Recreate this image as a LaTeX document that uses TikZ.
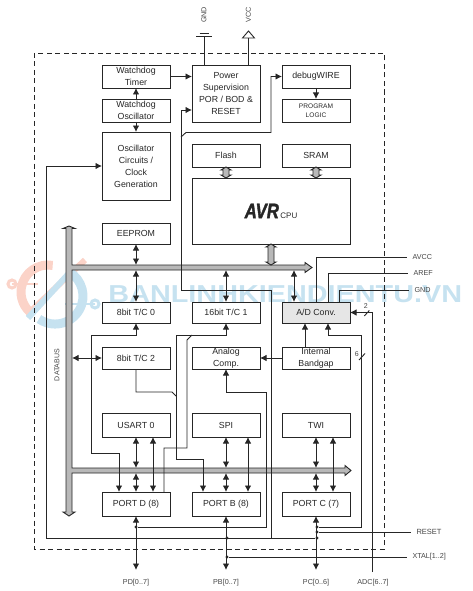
\documentclass[tikz,border=0pt]{standalone}
\usepackage{xcolor}
\usepackage{fontspec}
\setmainfont{Liberation Sans}
\newfontfamily\avrlogo[BoldItalicFeatures={FakeBold=2}]{Liberation Sans}
\usetikzlibrary{shapes,arrows.meta,positioning}
\definecolor{ink}{HTML}{262626}
\definecolor{labelgray}{HTML}{454545}
\definecolor{busgray}{HTML}{B8B8B8}
\definecolor{adcgray}{HTML}{E6E6E6}
\definecolor{wmblue}{HTML}{C6E2F0}
\definecolor{wmred}{HTML}{FBD3C8}
\newcommand{\busarrow}[2]{%
  \draw [busline] (#1) -- ([shift={(-5pt,-3pt)}]#1) -- ([shift={(-3pt,-3pt)}]#1)
    -- ([shift={(-3pt,3pt)}]#2) -- ([shift={(-5pt,3pt)}]#2) -- (#2)
    -- ([shift={(5pt,3pt)}]#2) -- ([shift={(3pt,3pt)}]#2)
    -- ([shift={(3pt,-3pt)}]#1) -- ([shift={(5pt,-3pt)}]#1) -- cycle;}

\begin{document}
\begin{tikzpicture}[x=1pt, y=-1pt, ink, line width=0.9pt,
  block/.style={rectangle, draw, inner sep=0pt, outer sep=0pt, align=center, minimum width=68pt, minimum height=23pt, text=ink, font=\fontsize{8.8}{12}\selectfont},
  pin/.style={inner sep=0pt, outer sep=5.5pt, text=labelgray, font=\fontsize{7.2}{9}\selectfont},
  tiny/.style={inner sep=0pt, text=labelgray, font=\fontsize{7}{9}\selectfont},
  line/.style={draw, -{Latex[length=6.5pt,width=6.5pt]}},
  dline/.style={draw, {Latex[length=6.5pt,width=6.5pt]}-{Latex[length=6.5pt,width=6.5pt]}},
  busline/.style={draw, fill=busgray},
  dot/.style={circle, fill, inner sep=0pt, minimum size=3.2pt}]

  \useasboundingbox (0,0) rectangle (472,591);

  \draw [wmred, line width=9pt] (52.7,265.4) arc [start angle=-80, end angle=-235, radius=27];
  \draw [wmred, line width=6pt] (85,260) -- (32,310);
  \draw [wmred, line width=2pt] (12,284) -- (38,284);
  \draw [wmred, line width=3pt] (12,284) circle [radius=4];
  \draw [wmblue, line width=9pt] (69,271.8) arc [start angle=-60, end angle=125, radius=28];
  \draw [wmblue, line width=6pt] (72,270) -- (28,318);
  \draw [wmblue, line width=2pt] (65,304) -- (95,304);
  \draw [wmblue, line width=3pt] (95,304) circle [radius=4];
  \node [anchor=west, inner sep=0pt, text=wmblue, font=\bfseries\fontsize{24.5}{24}\selectfont] (watermark) at (108,294) {\scalebox{1.176}[1]{BANLINHKIENDIENTU.VN}};

  \draw [dashed, dash pattern=on 5pt off 3.5pt] (34,53) rectangle (384,549);

  \node [block] (wdtimer) at (136,76.5) {Watchdog\\Timer};
  \node [block, below=11pt of wdtimer] (wdosc) {Watchdog\\Oscillator};
  \node [block, below=10pt of wdosc, minimum height=68pt] (osc) {Oscillator\\Circuits /\\Clock\\Generation};
  \node [block, below=23pt of osc, minimum height=21pt] (eeprom) {EEPROM};
  \node [block, below=58pt of eeprom, minimum height=21pt] (tc0) {8bit T/C 0};
  \node [block, below=24pt of tc0, minimum height=22pt] (tc2) {8bit T/C 2};
  \node [block, below=44pt of tc2, minimum height=24pt] (usart) {USART 0};
  \node [block, below=55pt of usart, minimum height=24pt] (portd) {PORT D (8)};

  \node [block, right=22pt of wdtimer.north east, anchor=north west, minimum height=57pt] (power) {Power\\Supervision\\POR / BOD \&\\RESET};
  \node [block, below=22pt of power] (flash) {Flash};
  \node [block, below=11pt of flash.south west, anchor=north west, minimum width=158pt, minimum height=66pt] (cpu) {\scalebox{.8}[1]{\fontsize{21}{21}\selectfont\avrlogo\bfseries\itshape AVR}\,{\fontsize{8}{8}\selectfont CPU}};
  \node [block, right=22pt of tc0, minimum height=21pt] (tc1) {16bit T/C 1};
  \node [block, right=22pt of tc2, minimum height=22pt] (comp) {Analog\\Comp.};
  \node [block, right=22pt of usart, minimum height=24pt] (spi) {SPI};
  \node [block, right=22pt of portd, minimum height=24pt] (portb) {PORT B (8)};

  \node [block, right=22pt of power.north east, anchor=north west] (debug) {debugWIRE};
  \node [block, below=11pt of debug, font=\fontsize{6.6}{9}\selectfont] (logic) {PROGRAM\\LOGIC};
  \node [block, right=22pt of flash] (sram) {SRAM};
  \node [block, right=22pt of tc1, minimum height=21pt, fill=adcgray] (adc) {A/D Conv.};
  \node [block, right=22pt of comp, minimum height=22pt] (band) {Internal\\Bandgap};
  \node [block, right=22pt of spi, minimum height=24pt] (twi) {TWI};
  \node [block, right=22pt of portb, minimum height=24pt] (portc) {PORT C (7)};

  \coordinate (busatop) at (72,265);
  \coordinate (busabot) at (72,270);
  \coordinate (busbtop) at (72,468);
  \coordinate (busbbot) at (72,473);
  \coordinate (pinrow) at (0,570);

  \draw [busline] (69,226) -- (75,228.5) -- (72,228.5) -- (busatop) -- (305,265) -- (305,262.5) -- (312,267.5) -- (305,272.5) -- (305,270) -- (busabot) -- (busbtop) -- (345,468) -- (345,465.5) -- (351,470.5) -- (345,475.5) -- (345,473) -- (busbbot) -- (72,512) -- (75,512) -- (69,516) -- (63,512) -- (66,512) -- (66,228.5) -- (63,228.5) -- cycle;
  \busarrow{flash.south}{flash.south |- cpu.north}
  \busarrow{sram.south}{sram.south |- cpu.north}
  \busarrow{cpu.south}{cpu.south |- busatop}

  \node [pin, anchor=west] (avcc) at (407,257) {AVCC};
  \node [pin, anchor=west] (aref) at (408,273) {AREF};
  \node [pin, anchor=west] (agnd) at (409,290) {GND};
  \node [pin, anchor=west, font=\fontsize{7.5}{9}\selectfont] (reset) at (411,532) {RESET};
  \node [pin, anchor=west] (xtal) at (407,557) {XTAL[1..2]};
  \node [pin] (pd) at (portd.south |- 0,583) {PD[0..7]};
  \node [pin] (pb) at (portb.south |- 0,583) {PB[0..7]};
  \node [pin] (pc) at (portc.south |- 0,583) {PC[0..6]};
  \node [pin] (adcpin) at (373,583) {ADC[6..7]};
  \node [pin, rotate=90] (gndpin) at (204,15) {GND};
  \node [pin, rotate=90] (vccpin) at (248.5,15) {VCC};
  \node [tiny] (databus) [rotate=90] at (57,365) {DATABUS};
  \node [tiny] (two) at (365.7,306) {2};
  \node [tiny] (six) at (356.7,354) {6};

  \draw [line] (wdtimer) -- (power.west |- wdtimer);
  \draw [line] (wdosc) -- (wdtimer);
  \draw [line] (wdosc) -- (osc);
  \draw [line] (debug) -- (logic);

  \draw ([xshift=-22pt]power.north) -- ++(0,-29) coordinate (gndtop);
  \draw ([shift={(-8pt,0pt)}]gndtop) -- ([shift={(8pt,0pt)}]gndtop);
  \draw [line width=1.3pt] ([shift={(-4.5pt,2.5pt)}]gndtop) -- ([shift={(4.5pt,2.5pt)}]gndtop);
  \draw ([xshift=22.5pt]power.north) -- ++(0,-27) coordinate (vcctop);
  \draw ([xshift=-6pt]vcctop) -- ([yshift=7pt]vcctop) -- ([xshift=6pt]vcctop) -- cycle;

  \draw [dline] (eeprom) -- (eeprom.south |- busatop);
  \draw [dline] (tc0) -- (tc0.north |- busabot);
  \draw [dline] (tc1) -- (tc1.north |- busabot);
  \draw [dline] ([xshift=-22pt]adc.north) -- ([xshift=-22pt]adc.north |- busabot);
  \draw [dline] (tc2) -- (tc2.west -| busabot);

  \draw [dline] (usart) -- (usart.south |- busbtop);
  \draw [dline] (spi) -- (spi.south |- busbtop);
  \draw [dline] (twi) -- (twi.south |- busbtop);
  \draw [dline] (portd) -- (portd.north |- busbbot);
  \draw [dline] (portb) -- (portb.north |- busbbot);
  \draw [dline] (portc) -- (portc.north |- busbbot);
  \draw [dline] ([xshift=17pt]usart.south) -- ([xshift=17pt]portd.north);
  \draw [dline] ([xshift=22pt]spi.south) -- ([xshift=22pt]portb.north);
  \draw [dline] ([xshift=17pt]twi.south) -- ([xshift=17pt]portc.north);

  \draw [dline] (tc0) |- (91,335) -- (91,453) -| ([xshift=-17pt]portd.north);
  \draw [dline] (tc1) |- (176,335) -- (176,459) -| ([xshift=-23pt]portb.north);
  \draw (192,335) -- (187,340) -- (187,448) -| ([xshift=28pt]portd.north);
  \draw (tc2) |- (172,392) -- (176,396);
  \draw [line] ([xshift=-11pt]band.north) -- ([xshift=-11pt]adc.south);
  \draw [line] (band) -- (comp);

  \draw (adc.north) |- (avcc.west);
  \draw ([xshift=12pt]adc.north) |- (aref.west);
  \draw ([xshift=23pt]adc.north) |- (agnd.west);

  \foreach \x/\y in {136/527, 227/538, 227/557, 317/527, 317/532, 317/538}
    \node [dot] (dot\x-\y) at (\x,\y) {};

  \draw [dline] (portd) -- (portd.south |- pinrow);
  \draw [dline] (portb) -- (portb.south |- pinrow);
  \draw [dline] (portc) -- (portc.south |- pinrow);

  \draw [line] (dot136-527) -- (266,527) -- (266,392) -| (comp);
  \draw [line] (dot317-527) -- (361.5,527) -- (361.5,335) -| ([xshift=12pt]adc.south);
  \draw [line] (372.7,572) -- (372.7,312.5) -- (adc);
  \draw (dot317-532) -- (reset.west);
  \draw (dot227-557) -- (xtal.west);
  \draw (359,360) -- (365,353.5);
  \draw (364.3,316) -- (369.3,310.5);

  \draw [line] (dot317-538) -- (46,538) -- (46,166) -- (osc);
  \draw [line] (271,538) -- (271,290) -- (181,290) -- (181,110) -- (power.west |- 181,110);
  \draw [line] (181,137) -- (186,132.5) -- (271,132.5) -- (271,76.5) -- (debug);
\end{tikzpicture}
\end{document}
